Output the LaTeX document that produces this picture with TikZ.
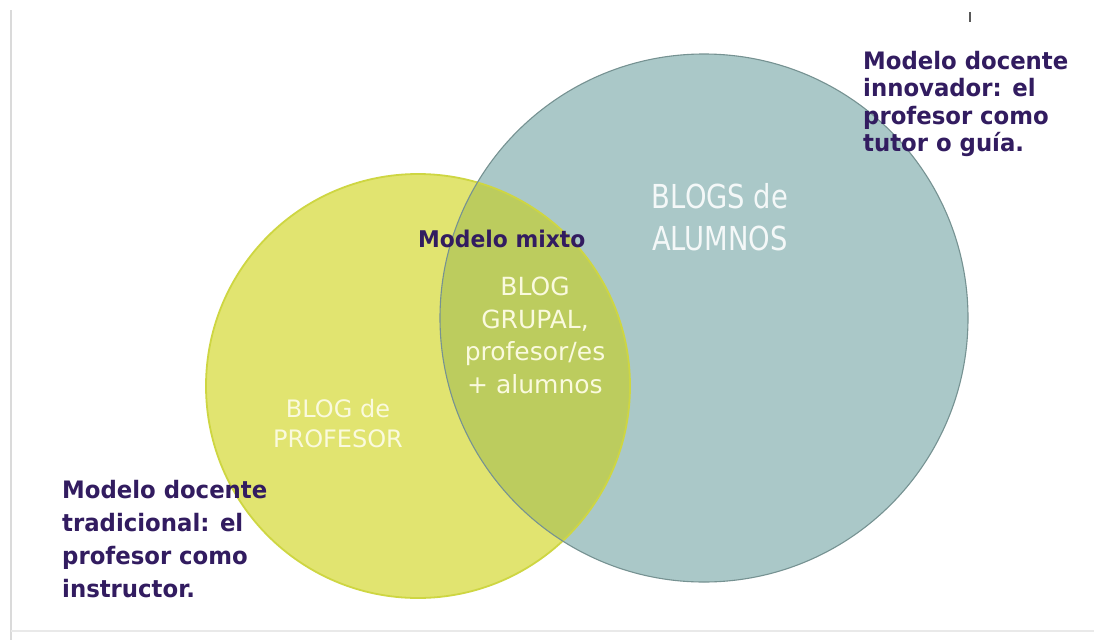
\documentclass[tikz,border=0pt]{standalone}
\usepackage{fontspec}
\setmainfont{DejaVu Sans}
\newfontfamily\narrowA[FakeStretch=0.83]{DejaVu Sans}
\newfontfamily\narrowB[FakeStretch=0.95]{DejaVu Sans}
\definecolor{yfill}{RGB}{225,228,112}
\definecolor{ydraw}{RGB}{206,214,66}
\definecolor{tfill}{RGB}{170,200,200}
\definecolor{tdraw}{RGB}{118,146,146}
\definecolor{ovl}{RGB}{188,204,94}
\definecolor{purp}{RGB}{50,28,96}
\definecolor{creamw}{RGB}{250,250,222}
\definecolor{tealw}{RGB}{244,248,248}
\definecolor{frameg}{RGB}{218,218,218}
\tikzset{
  purplabel/.style={text=purp, inner sep=0pt, align=left, anchor=north west,
    font=\narrowB\bfseries\fontsize{24}{27.5}\selectfont},
  inlabel/.style={inner sep=0pt, align=center, anchor=north},
}
\begin{document}
\begin{tikzpicture}[x=1pt,y=-1pt]
\useasboundingbox (0,0) rectangle (1094,640);
\fill[white] (0,0) rectangle (1094,640);
% frame lines
\coordinate (fl1) at (11,10);
\coordinate (fl2) at (11,640);
\coordinate (fb2) at (1094,631);
\coordinate (fb1) at (11,631);
\draw[frameg, line width=2pt] (fl1) -- (fl2);
\draw[frameg!60, line width=1.2pt] (fb1) -- (fb2);
\coordinate (tk1) at (970,12);
\coordinate (tk2) at (970,22);
\draw[gray!70!black, line width=1.6pt] (tk1) -- (tk2);
% circles
\coordinate (yc) at (418,386);
\coordinate (tc) at (704,318);
\fill[yfill] (yc) circle[radius=212pt];
\fill[tfill] (tc) circle[radius=264pt];
\begin{scope}
  \clip (yc) circle[radius=212pt];
  \fill[ovl] (tc) circle[radius=264pt];
\end{scope}
\draw[ydraw, line width=1.8pt] (yc) circle[radius=212pt];
\draw[tdraw, line width=1.1pt] (tc) circle[radius=264pt];
% inner labels
\node[inlabel, text=tealw, font=\narrowA\fontsize{33}{42}\selectfont] (alum) at (720,183) {BLOGS de\\ALUMNOS};
\node[inlabel, text=creamw, font=\fontsize{25}{32.5}\selectfont] (grupal) at (535,277) {BLOG\\GRUPAL,\\profesor/es\\+ alumnos};
\node[inlabel, text=creamw, font=\fontsize{24}{30}\selectfont] (prof) at (338,399) {BLOG de\\PROFESOR};
% purple labels
\node[text=purp, inner sep=0pt, anchor=base west, font=\narrowB\bfseries\fontsize{23}{27.5}\selectfont] (mixto) at (418,247) {Modelo mixto};
\node[purplabel] (innov) at (863,51) {Modelo docente\\innovador: el\\profesor como\\tutor o guía.};
\node[purplabel, font=\narrowB\bfseries\fontsize{24}{33}\selectfont] (trad) at (62,480) {Modelo docente\\tradicional: el\\profesor como\\instructor.};
\end{tikzpicture}
\end{document}
